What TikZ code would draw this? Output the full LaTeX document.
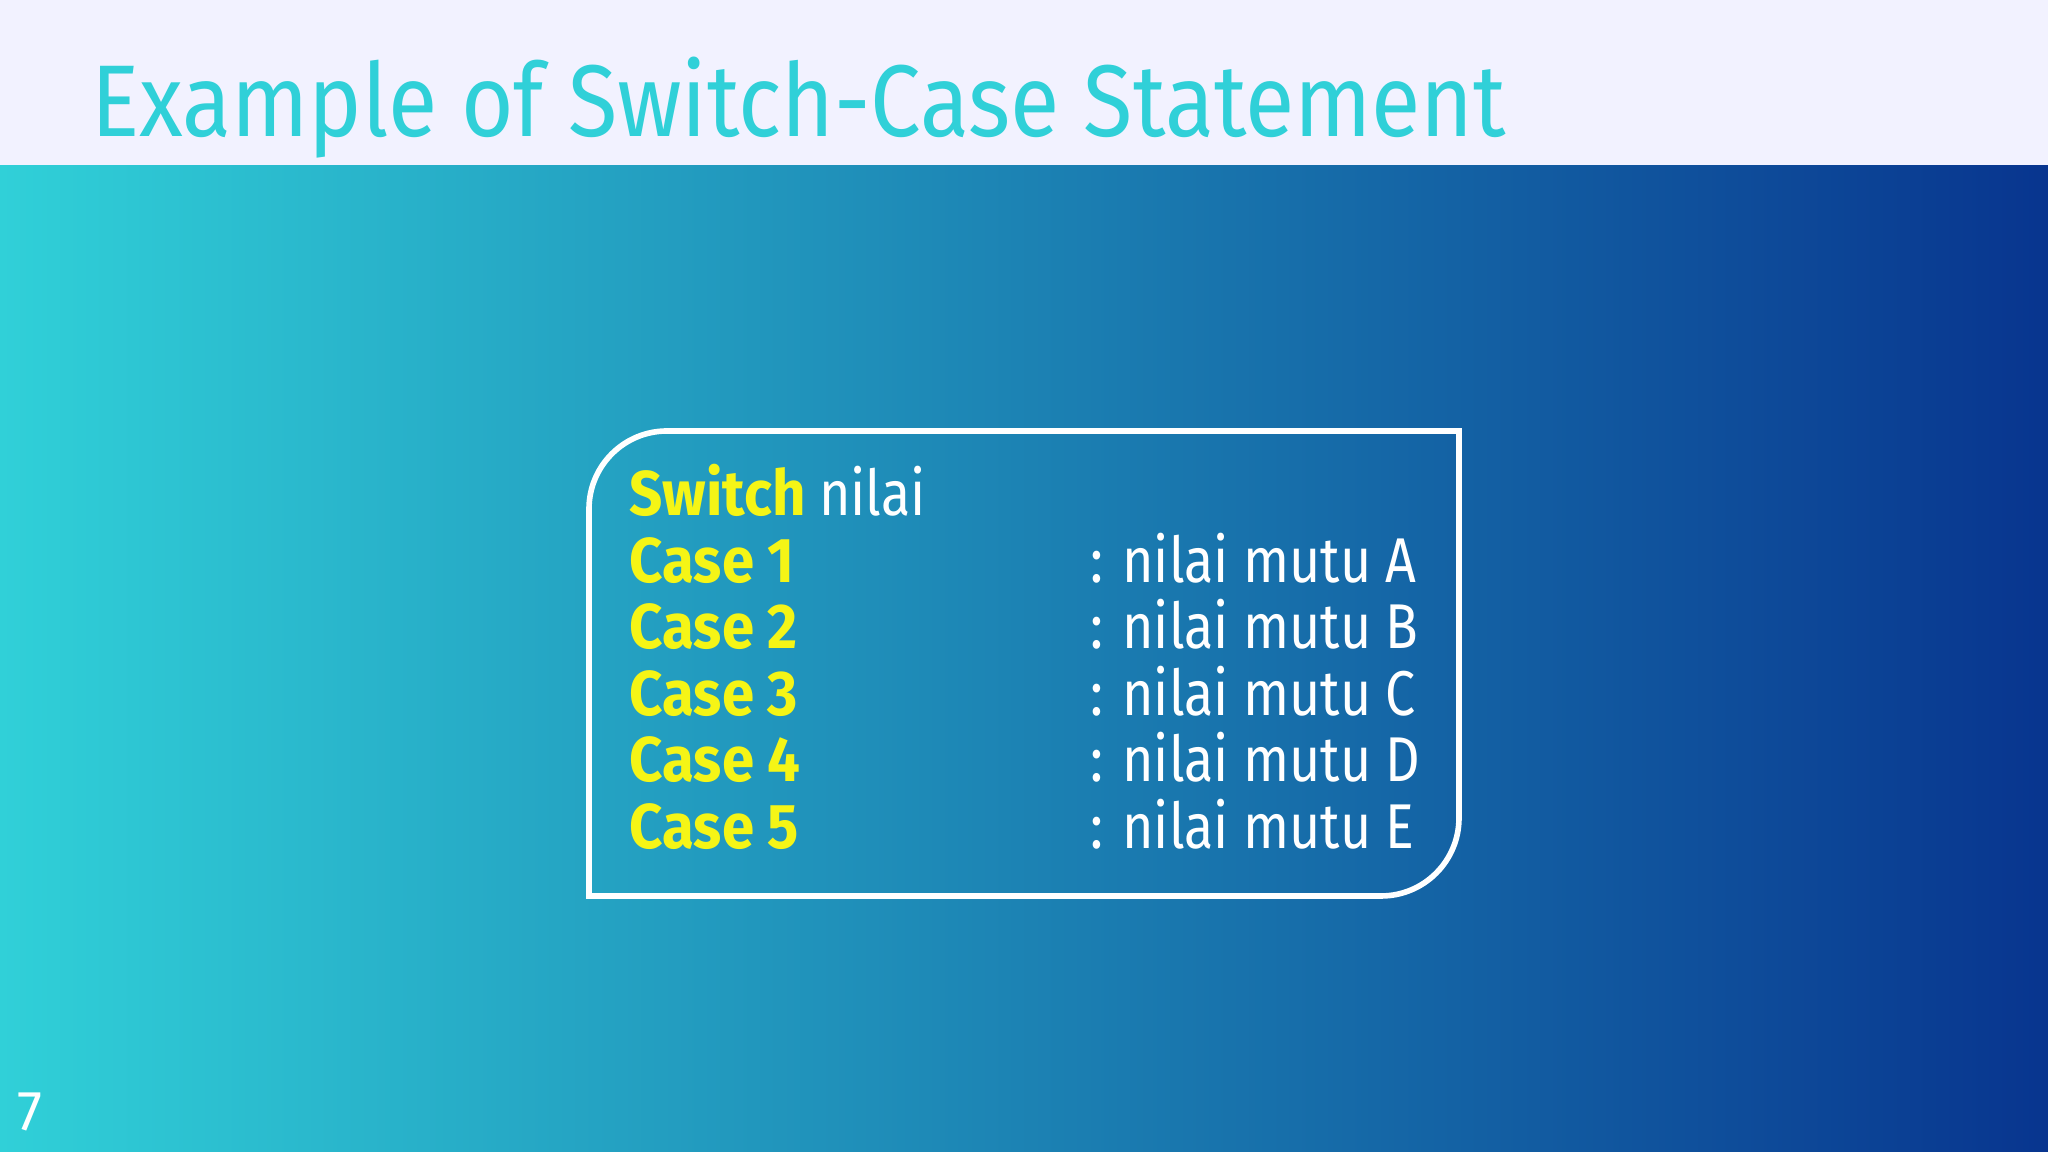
\documentclass[tikz,border=0pt]{standalone}
\usepackage{fontspec}
\setmainfont{Fira Sans}
\usetikzlibrary{positioning}
\definecolor{skycyan}{HTML}{30D0D8}
\definecolor{deepblue}{HTML}{08358F}
\definecolor{casey}{HTML}{F5F516}
\tikzset{
	casetext/.style={anchor=base west, text=casey, font=\fontsize{18}{20}\selectfont\bfseries, inner sep=0, xscale=0.92},
	valtext/.style={anchor=base west, text=white, font=\fontsize{18}{20}\selectfont, inner sep=0, xscale=0.85}
}

\begin{document}
\begin{tikzpicture}
	\useasboundingbox (0,0) rectangle (20.48,11.52);
	
	% Background
	\shade[left color=skycyan, right color=deepblue] (0,0) rectangle (20.48,9.87);
	\fill[color=white!95!blue] (0,9.87) rectangle (20.48,11.52);
	
	% Title
	\node[anchor=base west, text=skycyan, inner sep=0, xscale=0.885,
	font=\fontsize{29}{32}\selectfont] (title) at (0.91,10.15) {Example of Switch-Case Statement};
	
	% Frame
	\draw[white, line width=1.6pt] (5.89,2.56) -- (5.89,6.43)
	arc[start angle=180, end angle=90, radius=0.78] -- (14.59,7.21) -- (14.59,3.34)
	arc[start angle=0, end angle=-90, radius=0.78] -- cycle;
	
	% Code lines
	\node[casetext] (switch) at (6.29,6.36) {Switch};
	\node[valtext, right=0.12 of switch.base east, anchor=base west] (var) {nilai};
	\foreach \n/\g [count=\i] in {1/A,2/B,3/C,4/D,5/E} {
		\node[casetext] (case\n) at (6.29,6.36-0.665*\i) {Case \n};
		\node[valtext] (val\n) at (10.90,6.36-0.665*\i) {: nilai mutu \g};
	}
	
	% Page number
	\node[anchor=base west, text=white, inner sep=0, font=\fontsize{16}{18}\selectfont] (page) at (0.17,0.21) {7};
\end{tikzpicture}
\end{document}
